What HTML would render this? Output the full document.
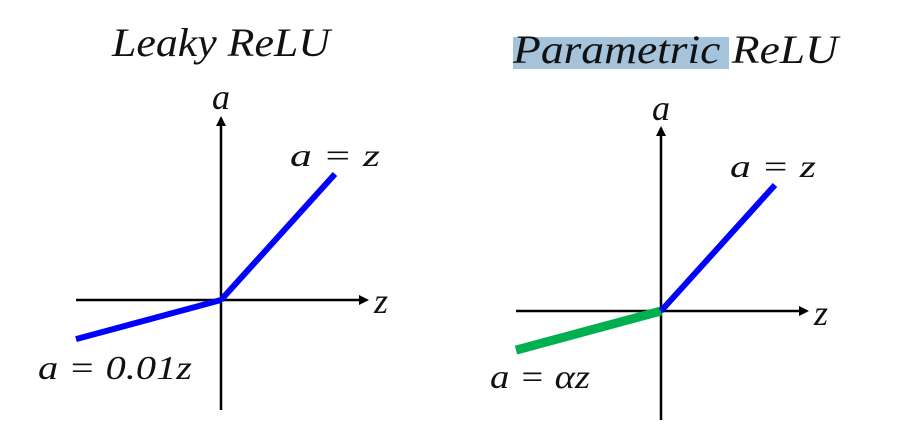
<!DOCTYPE html>
<html><head><meta charset="utf-8"><style>
body{margin:0;background:#fff;width:902px;height:434px;overflow:hidden}
text{font-family:"Liberation Serif","DejaVu Serif",serif;font-style:italic;fill:#111}
</style></head><body>
<svg width="902" height="434" viewBox="0 0 902 434">
<defs><marker id="ar" markerWidth="10" markerHeight="10" refX="8" refY="5" orient="auto" markerUnits="userSpaceOnUse"><path d="M0,0 L10,5 L0,10 z" fill="#000"/></marker></defs>
<rect x="513" y="37" width="216" height="32" fill="#a6c3dc"/>
<g id="left"></g>
<g id="right"></g>
<text x="112" y="56" font-size="40" textLength="218" lengthAdjust="spacingAndGlyphs">Leaky ReLU</text>
<text x="513" y="63" font-size="40" textLength="325" lengthAdjust="spacingAndGlyphs">Parametric ReLU</text>
<text x="221" y="109" font-size="36" text-anchor="middle">a</text>
<text x="661" y="120" font-size="36" text-anchor="middle">a</text>
<text x="374" y="313" font-size="36">z</text>
<text x="814" y="325" font-size="36">z</text>
<text x="290" y="166" font-size="32" textLength="90" lengthAdjust="spacingAndGlyphs">a = z</text>
<text x="730" y="177" font-size="32" textLength="86" lengthAdjust="spacingAndGlyphs">a = z</text>
<text x="38" y="379" font-size="34" textLength="154" lengthAdjust="spacingAndGlyphs">a = 0.01z</text>
<text x="490" y="388" font-size="34" textLength="100" lengthAdjust="spacingAndGlyphs">a = αz</text>
</svg>
<script>
// data: z values and a values (units of 145px)
const zNeg = [-1, 0];
const leakyNeg = [-0.27, 0];
const paramNeg = [-0.27, 0];
const zPos = [0, 0.786];
const aPos = [0, 0.869];
const NS = "http://www.w3.org/2000/svg";
function draw(gid, ox, oy, yTop, yBot, xLeft, xRight, negVals, negColor, negW, pre){
  const g = document.getElementById(gid);
  const sx = z => ox + z*145, sy = a => oy - a*145;
  function line(x1,y1,x2,y2,stroke,w,name,arrow){
    const l = document.createElementNS(NS,'line');
    l.setAttribute('x1',x1);l.setAttribute('y1',y1);l.setAttribute('x2',x2);l.setAttribute('y2',y2);
    l.setAttribute('stroke',stroke);l.setAttribute('stroke-width',w);
    if(arrow) l.setAttribute('marker-end','url(#ar)');
    
    
    g.appendChild(l);
  }
  line(ox,yBot,ox,yTop,'#000',2.5,pre+'-y-axis',true);
  line(xLeft,oy,xRight,oy,'#000',2.5,pre+'-x-axis',true);
  line(sx(zNeg[0]),sy(negVals[0]),sx(zNeg[1]),sy(negVals[1]),negColor,negW,pre+'-negative-segment',false);
  line(sx(zPos[0]),sy(aPos[0]),sx(zPos[1]),sy(aPos[1]),'#0000ff',6,pre+'-positive-segment',false);
}
draw('left',221,300,118,410,76,367,leakyNeg,'#0000ff',6,'leaky');
draw('right',661,311,128,420,516,807,paramNeg,'#00b050',9,'parametric');
</script>
</body></html>
